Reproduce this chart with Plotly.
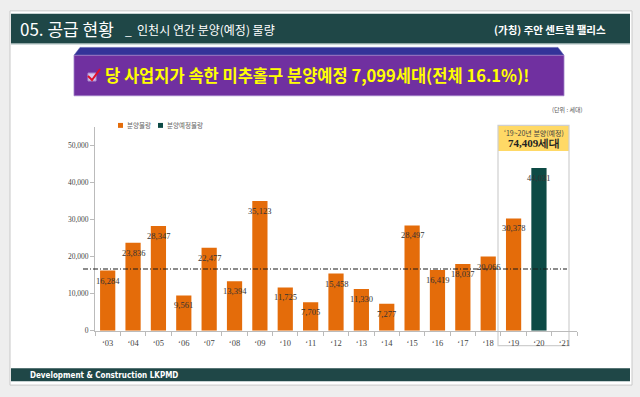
import plotly.graph_objects as go

W, H = 640, 397

years = ["‘03", "‘04", "‘05", "‘06", "‘07", "‘08", "‘09", "‘10", "‘11", "‘12",
         "‘13", "‘14", "‘15", "‘16", "‘17", "‘18", "‘19", "‘20", "‘21"]
supplied = [16284, 23836, 28347, 9561, 22477, 13394, 35123, 11725, 7705, 15458,
            11330, 7277, 28497, 16419, 18037, 20066, 30378, None, None]
planned = [None] * 17 + [44031, None]
avg_line = 16700
y_ticks = [0, 10000, 20000, 30000, 40000, 50000]

ORANGE = "#E46C0A"
TEAL = "#0D4A45"
BAND = "#1F4747"
SERIF = "Liberation Serif"


def px(x):
    return x / W


def py(y):
    return 1 - y / H


def fmt(v):
    return f"{v:,}"


fig = go.Figure()
fig.add_trace(go.Bar(x=years, y=supplied, marker_color=ORANGE, name="분양물량",
                     marker_line_width=0, showlegend=False))
fig.add_trace(go.Bar(x=years, y=planned, marker_color=TEAL, name="분양예정물량",
                     marker_line_width=0, showlegend=False))

ann = []
for i, yr in enumerate(years):
    v = supplied[i] if supplied[i] is not None else planned[i]
    if v is not None:
        ann.append(dict(x=yr, y=v, xref="x", yref="y", text=fmt(v), showarrow=False,
                        yshift=-10, xanchor="center", yanchor="middle",
                        font=dict(family=SERIF, size=8.5, color="#333333")))

shapes = []
# outer white panel
shapes.append(dict(type="rect", xref="paper", yref="paper", x0=px(10), x1=px(632),
                   y0=py(390), y1=py(11), fillcolor="white",
                   line=dict(color="#C8C8C8", width=1), layer="below"))
# header band
shapes.append(dict(type="rect", xref="paper", yref="paper", x0=px(11), x1=px(630),
                   y0=py(44), y1=py(14), fillcolor=BAND, line_width=0, layer="below"))
shapes.append(dict(type="line", xref="paper", yref="paper", x0=px(11), x1=px(630),
                   y0=py(44.5), y1=py(44.5), line=dict(color="#9AAFAF", width=1), layer="below"))
# footer band
shapes.append(dict(type="rect", xref="paper", yref="paper", x0=px(11), x1=px(630),
                   y0=py(386), y1=py(373), fillcolor=BAND, line_width=0, layer="below"))
# purple banner bevel + face
shapes.append(dict(type="path", xref="paper", yref="paper",
                   path=f"M {px(74)},{py(56)} L {px(80)},{py(48)} L {px(558)},{py(48)} L {px(564)},{py(56)} Z",
                   fillcolor="#333399", line=dict(color="#5555AA", width=0.5), layer="below"))
shapes.append(dict(type="rect", xref="paper", yref="paper", x0=px(74), x1=px(564),
                   y0=py(97), y1=py(56), fillcolor="#7030A0",
                   line=dict(color="#A080C8", width=0.8), layer="below"))
# checkbox
shapes.append(dict(type="rect", xref="paper", yref="paper", x0=px(88), x1=px(96),
                   y0=py(82), y1=py(74), fillcolor="#D8C8F0",
                   line=dict(color="#B090D0", width=1), layer="above"))
shapes.append(dict(type="path", xref="paper", yref="paper",
                   path=f"M {px(88)},{py(77)} L {px(92)},{py(81)} L {px(100)},{py(70)}",
                   line=dict(color="#E0102A", width=2), layer="above"))
# highlight box for 19-20
shapes.append(dict(type="rect", xref="paper", yref="paper", x0=px(498), x1=px(569),
                   y0=py(153), y1=py(127), fillcolor="#FFD966", line_width=0, layer="below"))
shapes.append(dict(type="rect", xref="paper", yref="paper", x0=px(498), x1=px(569),
                   y0=py(350), y1=py(127), fillcolor="rgba(0,0,0,0)",
                   line=dict(color="#CFCFCF", width=1.2), layer="below"))
# average dash-dot line
shapes.append(dict(type="line", xref="paper", yref="y", x0=px(83), x1=px(567),
                   y0=avg_line, y1=avg_line,
                   line=dict(color="#1A1A1A", width=1.1, dash="5px,2px,1px,2px"), layer="above"))
# legend squares
shapes.append(dict(type="rect", xref="paper", yref="paper", x0=px(118), x1=px(123),
                   y0=py(129.5), y1=py(124.5), fillcolor=ORANGE, line_width=0))
shapes.append(dict(type="rect", xref="paper", yref="paper", x0=px(158), x1=px(163),
                   y0=py(129.5), y1=py(124.5), fillcolor=TEAL, line_width=0))

KR = "Noto Sans CJK KR"
ann.append(dict(x=px(18), y=py(29), xref="paper", yref="paper", xanchor="left", yanchor="middle",
                text="05. 공급 현황", showarrow=False,
                font=dict(family=KR, size=17, color="white")))
ann.append(dict(x=px(123), y=py(30), xref="paper", yref="paper", xanchor="left", yanchor="middle",
                text="_  인천시 연간 분양(예정) 물량", showarrow=False,
                font=dict(family=KR, size=12, color="white")))
ann.append(dict(x=px(608), y=py(30), xref="paper", yref="paper", xanchor="right", yanchor="middle",
                text="<b>(가칭) 주안 센트럴 팰리스</b>", showarrow=False,
                font=dict(family=KR, size=10.5, color="white")))
ann.append(dict(x=px(103), y=py(76), xref="paper", yref="paper", xanchor="left", yanchor="middle",
                text="<b>당 사업지가 속한 미추홀구 분양예정 7,099세대(전체 16.1%)!</b>", showarrow=False,
                font=dict(family=KR, size=16.5, color="#FFFF00")))
ann.append(dict(x=px(28), y=py(380), xref="paper", yref="paper", xanchor="left", yanchor="middle",
                text="<b>Development &amp; Construction LKPMD</b>", showarrow=False,
                font=dict(family="DejaVu Sans Condensed", size=8, color="white")))
ann.append(dict(x=px(585), y=py(111), xref="paper", yref="paper", xanchor="right", yanchor="middle",
                text="(단위 : 세대)", showarrow=False,
                font=dict(family=KR, size=6, color="#555555")))
ann.append(dict(x=px(125), y=py(127), xref="paper", yref="paper", xanchor="left", yanchor="middle",
                text="분양물량", showarrow=False,
                font=dict(family=KR, size=6.5, color="#666666")))
ann.append(dict(x=px(165), y=py(127), xref="paper", yref="paper", xanchor="left", yanchor="middle",
                text="분양예정물량", showarrow=False,
                font=dict(family=KR, size=6.5, color="#666666")))
ann.append(dict(x=px(533.5), y=py(135), xref="paper", yref="paper", xanchor="center", yanchor="middle",
                text="‘19~20년 분양(예정)", showarrow=False,
                font=dict(family=KR, size=7, color="#444444")))
ann.append(dict(x=px(533.5), y=py(145), xref="paper", yref="paper", xanchor="center", yanchor="middle",
                text="<b>74,409세대</b>", showarrow=False,
                font=dict(family=SERIF, size=11, color="#222222")))

fig.update_layout(
    width=W, height=H,
    margin=dict(l=0, r=0, t=0, b=0),
    paper_bgcolor="#EEEEEE",
    plot_bgcolor="rgba(0,0,0,0)",
    barmode="overlay",
    bargap=0.4,
    shapes=shapes,
    annotations=ann,
    showlegend=False,
    xaxis=dict(domain=[px(95), px(577)], type="category", range=[-0.5, 18.5],
               showline=True, linecolor="#BBBBBB", linewidth=1,
               ticks="outside", tickson="boundaries", ticklen=4, tickcolor="#BBBBBB",
               ticklabelstandoff=4,
               showgrid=False, zeroline=False,
               tickfont=dict(family=SERIF, size=8.5, color="#444444")),
    yaxis=dict(domain=[py(335), py(129)], range=[0, 55000],
               tickvals=y_ticks, ticktext=[fmt(v) for v in y_ticks],
               showline=True, linecolor="#BBBBBB", linewidth=1,
               ticks="outside", ticklen=4, tickcolor="#BBBBBB",
               showgrid=False, zeroline=False,
               tickfont=dict(family=SERIF, size=7.5, color="#444444")),
)

fig.write_html("out.html", config={"displayModeBar": False},
               post_script="document.body.style.margin='0';")
